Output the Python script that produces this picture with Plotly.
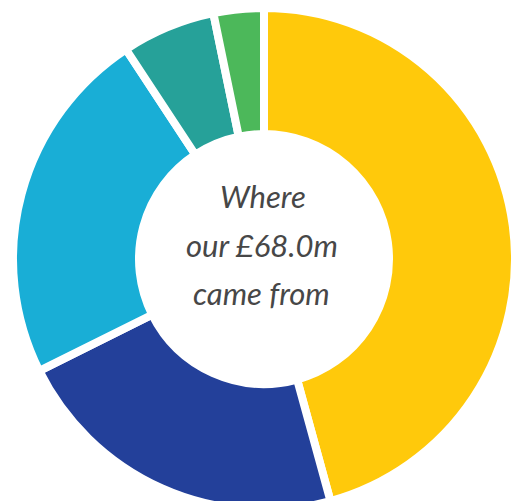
import plotly.graph_objects as go

labels = ["Yellow", "Dark blue", "Light blue", "Teal", "Green"]
values = [31.1, 14.9, 15.7, 4.1, 2.2]
colors = ["#FFC90B", "#23409A", "#19AED6", "#26A199", "#4CB85A"]
center_lines = ["Where", "our £68.0m", "came from"]

W, H = 520, 510
R = 251          # pie outer radius in px
CX = 256         # pie centre x in figure px
CY = R           # pie centre y in figure px (from top)

fig = go.Figure(go.Pie(
    labels=labels,
    values=values,
    sort=False,
    direction="clockwise",
    rotation=0,
    hole=0.498,
    textinfo="none",
    hoverinfo="label+value",
    marker=dict(colors=colors, line=dict(color="white", width=8)),
    domain=dict(x=[(CX - R) / W, (CX + R) / W], y=[1 - (CY + R) / H, 1]),
    showlegend=False,
))

line_pos_px = [(255, 188), (253.5, 237), (253, 285)]
for txt, (xc, yc) in zip(center_lines, line_pos_px):
    fig.add_annotation(
        text=txt, x=xc / W, y=1 - yc / H, xref="paper", yref="paper",
        xanchor="center", yanchor="middle", showarrow=False,
        font=dict(family="Lato", size=31, color="#474747", style="italic"),
    )

fig.update_layout(
    width=W, height=H,
    margin=dict(l=0, r=0, t=0, b=0),
    paper_bgcolor="white", plot_bgcolor="white",
)

fig.write_html("out.html")
